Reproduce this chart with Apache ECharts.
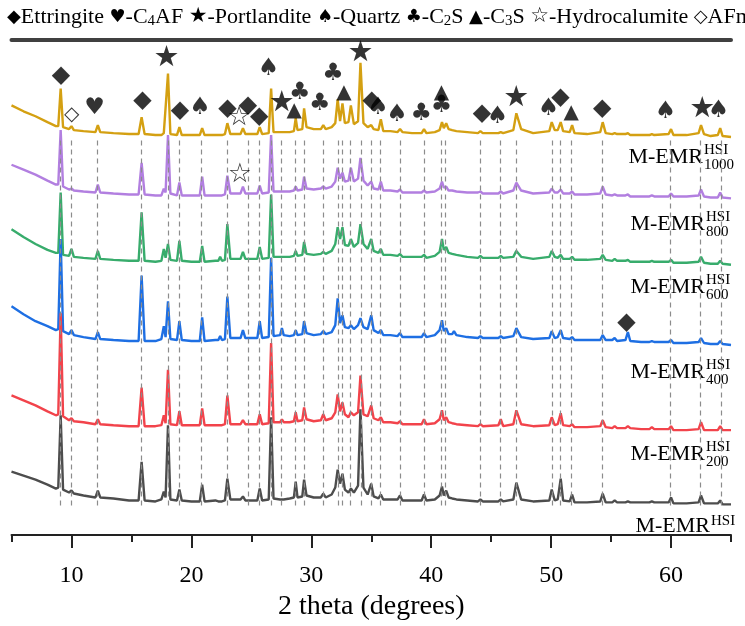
<!DOCTYPE html>
<html>
<head>
<meta charset="utf-8">
<script src="https://cdn.jsdelivr.net/npm/echarts@6/dist/echarts.min.js"></script>
<style>
  html, body { margin: 0; padding: 0; background: #fff; }
  #chart { width: 745px; height: 626px; }
</style>
</head>
<body>
<div id="chart"></div>
<script>
// 2 theta grid (degrees), shared by all six patterns
const twoTheta = [
  5, 6, 7, 8, 8.7, 8.9, 9.1, 9.3, 9.8, 10.0, 10.2, 11,
  12.0, 12.2, 12.4, 13.5, 14.8, 15.6, 15.85, 16.1, 17.0, 17.5, 17.7, 17.85,
  18.05, 18.25, 18.8, 19.0, 19.2, 20.0, 20.7, 20.9, 21.1, 22.0, 22.25, 22.4,
  22.55, 22.8, 23.0, 23.25, 24.1, 24.3, 24.5, 25.5, 25.7, 25.9, 26.45, 26.65,
  26.85, 27.4, 27.55, 27.7, 28.2, 28.55, 28.7, 28.85, 29.25, 29.4, 29.6, 30.2,
  30.8, 31.0, 31.2, 31.7, 32.0, 32.2, 32.4, 32.6, 32.8, 33.1, 33.3, 33.55,
  33.9, 34.1, 34.35, 34.7, 35.0, 35.2, 35.6, 35.8, 36.0, 36.6, 37.2, 37.4,
  37.6, 38.4, 39.2, 39.4, 39.6, 40.3, 40.7, 40.9, 41.05, 41.25, 41.45, 41.75,
  41.9, 42.1, 43.0, 43.9, 44.1, 44.3, 45.6, 45.8, 46.0, 46.85, 47.1, 47.5,
  48.5, 49.85, 50.05, 50.3, 50.55, 50.8, 51.0, 51.55, 51.75, 51.95, 53.0, 54.1,
  54.3, 54.55, 55.1, 55.3, 55.5, 56.2, 56.4, 56.6, 57.5, 58.2, 58.4, 58.6,
  59.8, 60.0, 60.2, 61.3, 62.3, 62.5, 62.75, 63.3, 63.9, 64.1, 64.3, 65
];

// intensities (a.u.) of each sample, before stacking
const emr1000 = [
  34, 28, 23, 17, 13, 13, 51, 12, 10, 13, 9, 8,
  7, 14, 7, 6, 5, 5, 22, 5, 4, 4, 6, 6,
  66, 5, 4, 12, 4, 4, 4, 11, 4, 4, 4, 5,
  4, 5, 16, 5, 5, 11, 5, 5, 12, 5, 6, 51,
  7, 7, 9, 7, 7, 8, 21, 9, 10, 31, 12, 10,
  10, 14, 10, 12, 16, 40, 18, 36, 16, 17, 34, 15,
  18, 77, 16, 12, 14, 10, 9, 20, 8, 8, 7, 10,
  7, 6, 6, 10, 6, 7, 9, 17, 11, 16, 10, 9,
  10, 8, 7, 6, 8, 6, 6, 7, 6, 9, 26, 10,
  6, 8, 17, 9, 9, 17, 8, 7, 14, 6, 5, 7,
  17, 6, 5, 6, 5, 5, 6, 4, 4, 4, 5, 4,
  5, 10, 4, 4, 6, 14, 5, 3, 4, 11, 3, 2
];
const emr800 = [
  34, 29, 24, 18, 14, 14, 69, 12, 9, 10, 8, 7,
  6, 14, 6, 5, 4, 4, 36, 4, 3, 3, 10, 6,
  64, 5, 3, 16, 3, 3, 3, 22, 3, 3, 3, 5,
  3, 4, 23, 5, 5, 12, 5, 5, 13, 5, 6, 64,
  7, 7, 9, 7, 7, 8, 12, 8, 9, 22, 10, 9,
  10, 12, 10, 12, 17, 31, 20, 26, 17, 18, 31, 17,
  20, 41, 18, 13, 17, 10, 9, 17, 8, 8, 7, 9,
  6, 6, 6, 8, 6, 7, 10, 17, 11, 12, 8, 8,
  9, 7, 6, 6, 7, 5, 5, 7, 5, 8, 16, 8,
  5, 6, 10, 6, 6, 9, 5, 5, 7, 4, 4, 5,
  12, 4, 3, 4, 3, 3, 4, 2, 2, 2, 3, 2,
  2, 5, 2, 2, 3, 9, 2, 1, 1, 6, 1, 0
];
const emr600 = [
  37, 29, 22, 16, 13, 13, 74, 11, 10, 17, 9, 8,
  7, 15, 7, 6, 5, 5, 54, 5, 4, 5, 17, 8,
  22, 6, 5, 25, 5, 4, 4, 20, 4, 5, 5, 9,
  5, 6, 42, 7, 7, 14, 7, 7, 19, 7, 8, 72,
  9, 9, 11, 9, 9, 10, 15, 10, 11, 24, 12, 11,
  12, 14, 12, 15, 22, 39, 27, 39, 21, 20, 27, 19,
  23, 42, 22, 17, 27, 15, 13, 17, 11, 11, 10, 12,
  9, 9, 9, 11, 8, 10, 14, 27, 16, 19, 13, 12,
  14, 11, 9, 8, 10, 8, 8, 10, 8, 9, 15, 9,
  7, 9, 15, 9, 8, 11, 7, 7, 9, 6, 6, 7,
  11, 6, 5, 7, 5, 5, 6, 4, 4, 4, 5, 4,
  4, 6, 3, 3, 4, 9, 3, 2, 2, 5, 2, 1
];
const emr400 = [
  39, 31, 24, 19, 15, 16, 107, 14, 11, 15, 10, 8,
  6, 13, 6, 5, 4, 4, 70, 4, 4, 6, 19, 8,
  44, 6, 5, 24, 5, 4, 4, 28, 4, 5, 5, 9,
  5, 6, 49, 7, 7, 15, 7, 7, 24, 7, 8, 88,
  9, 10, 17, 10, 9, 10, 15, 10, 11, 24, 12, 10,
  11, 14, 11, 13, 20, 47, 22, 30, 18, 17, 20, 16,
  20, 27, 18, 16, 30, 15, 12, 15, 10, 10, 9, 12,
  8, 8, 8, 12, 8, 10, 15, 25, 14, 17, 11, 11,
  14, 10, 8, 7, 9, 7, 7, 9, 7, 9, 17, 8,
  6, 7, 14, 7, 8, 15, 7, 6, 8, 5, 5, 5,
  10, 5, 5, 7, 4, 5, 13, 4, 3, 3, 4, 3,
  3, 5, 2, 2, 3, 7, 2, 1, 1, 4, 1, 0
];
const emr200 = [
  35, 30, 25, 19, 15, 16, 118, 14, 10, 12, 9, 8,
  6, 11, 6, 5, 4, 4, 43, 4, 4, 5, 15, 7,
  61, 6, 5, 19, 5, 5, 5, 22, 5, 5, 5, 7,
  5, 6, 35, 6, 6, 10, 6, 6, 16, 6, 7, 88,
  8, 8, 11, 8, 8, 9, 18, 9, 10, 23, 11, 9,
  10, 16, 10, 12, 18, 36, 19, 28, 16, 13, 18, 15,
  18, 55, 16, 14, 25, 12, 10, 13, 8, 8, 7, 9,
  6, 6, 6, 11, 6, 7, 11, 20, 10, 13, 8, 7,
  9, 6, 5, 4, 6, 4, 5, 11, 4, 6, 20, 6,
  4, 5, 13, 5, 6, 17, 5, 4, 6, 3, 3, 4,
  10, 3, 2, 4, 2, 2, 4, 2, 1, 1, 3, 1,
  1, 4, 0, 0, 1, 8, 0, 0, 0, 4, 0, 0
];
const emr0 = [
  34, 30, 26, 21, 17, 18, 91, 16, 13, 15, 12, 10,
  8, 15, 8, 7, 5, 5, 44, 5, 4, 6, 14, 8,
  81, 6, 5, 16, 5, 4, 4, 21, 4, 5, 4, 6,
  4, 5, 27, 6, 6, 9, 5, 5, 17, 5, 6, 89,
  7, 6, 8, 6, 7, 8, 24, 8, 9, 26, 10, 8,
  8, 12, 8, 11, 18, 36, 22, 32, 16, 13, 17, 13,
  20, 97, 18, 11, 22, 9, 7, 11, 6, 6, 6, 10,
  5, 5, 5, 11, 5, 6, 10, 19, 10, 15, 8, 7,
  8, 6, 5, 4, 6, 4, 4, 6, 4, 6, 23, 6,
  4, 5, 16, 5, 6, 27, 5, 4, 11, 3, 3, 4,
  12, 3, 3, 5, 3, 3, 4, 3, 3, 3, 4, 3,
  3, 8, 2, 2, 3, 10, 2, 2, 2, 5, 1, 1
];

const patterns = [emr1000, emr800, emr600, emr400, emr200, emr0];
const sampleSubs = ['1000', '800', '600', '400', '200', ''];
const stackOffsets = [400, 340, 272, 192, 106, 30];
const colors = ['#d4a012', '#b27fe0', '#38ac6c', '#1e6fe3', '#f2434b', '#4d4d4d'];

// reference peak positions (dashed lines)
const peakLines = [9.1, 10.02, 12.18, 15.8, 18.07, 18.98, 20.85, 22.96, 24.77, 25.65, 26.68,
  27.52, 28.68, 29.4, 30.98, 32.23, 32.6, 33.27, 34.13, 34.96, 35.77, 37.38, 39.4, 40.85,
  41.2, 44.1, 45.77, 47.1, 50.1, 50.77, 51.7, 54.27, 59.93, 62.46, 64.18];

// phase markers
const markerAngles = [9.13, 10.02, 11.93, 15.93, 17.93, 19.04, 20.71, 23.02, 23.98, 24.73, 25.65,
  26.43, 27.54, 28.57, 29.04, 30.71, 31.82, 32.73, 34.1, 35.04, 35.57, 37.15, 39.18, 40.85,
  40.85, 44.23, 45.52, 47.1, 49.79, 50.79, 51.68, 54.27, 59.54, 62.6, 63.96, 24.04, 56.29];
const markerLevels = [464, 424, 431, 439, 481, 429, 432, 431, 421, 434, 422,
  471, 436, 429, 447, 436, 466, 447, 486, 439, 432, 424, 426, 447,
  434, 426, 422, 441, 431, 442, 426, 431, 428, 430, 429, 364, 214];
const markerPhases = ['E', 'AFm', 'C4AF', 'E', 'P', 'E', 'Q', 'E', 'H', 'E', 'E',
  'Q', 'P', 'C3S', 'C2S', 'C2S', 'C2S', 'C3S', 'P', 'E', 'Q', 'Q', 'C2S', 'C3S',
  'C2S', 'E', 'Q', 'P', 'Q', 'E', 'C3S', 'E', 'Q', 'P', 'Q', 'H', 'E'];

const majorTicks = [10, 20, 30, 40, 50, 60];
const minorTicks = [5, 15, 25, 35, 45, 55, 65];

const glyphs = { E: '◆', C4AF: '♥', P: '★', Q: '♠', C2S: '♣', C3S: '▲', H: '☆', AFm: '◇' };
const glyphSize = { E: 24, C4AF: 23, P: 29, Q: 24, C2S: 24, C3S: 20, H: 27, AFm: 20 };

const serif = '"Liberation Serif", "Times New Roman", serif';
let myChart = echarts.init(document.getElementById('chart'));

let series = [];
// dashed guide lines
series.push({
  type: 'line',
  data: [],
  z: 1,
  markLine: {
    silent: true,
    symbol: ['none', 'none'],
    label: { show: false },
    lineStyle: { type: [5, 4], color: '#8c8c8c', width: 1.2 },
    data: peakLines.map(a => [{ coord: [a, 30] }, { coord: [a, 401] }])
  }
});
patterns.forEach((p, i) => {
  series.push({
    type: 'line',
    z: 2,
    symbol: 'none',
    data: twoTheta.map((t, k) => [t, stackOffsets[i] + p[k]]),
    lineStyle: { color: colors[i], width: 2.4 }
  });
});
series.push({
  type: 'scatter',
  z: 5,
  symbolSize: 1,
  itemStyle: { color: 'rgba(0,0,0,0)' },
  label: {
    show: true, position: 'inside', color: '#000',
    fontFamily: '"DejaVu Sans"'
  },
  data: markerAngles.map((a, k) => ({
    value: [a, markerLevels[k]],
    label: { formatter: glyphs[markerPhases[k]], fontSize: glyphSize[markerPhases[k]] }
  }))
});

// sample labels (M-EMR with HSI superscript and dosage subscript)
const labelY = [157.5, 224, 287, 372, 454, 526];
const labelX = [703, 705, 705, 705, 705, 710];
let graphic = [];
sampleSubs.forEach((s, i) => {
  graphic.push({ type: 'text', x: labelX[i], y: labelY[i],
    style: { text: 'M-EMR', align: 'right', verticalAlign: 'middle', font: '22px ' + serif, fill: '#000' } });
  graphic.push({ type: 'text', x: labelX[i] + 1, y: labelY[i] - (s ? 7 : 5),
    style: { text: 'HSI', align: 'left', verticalAlign: 'middle', font: '15px ' + serif, fill: '#000' } });
  if (s) {
    graphic.push({ type: 'text', x: labelX[i] + 1, y: labelY[i] + 8,
      style: { text: s, align: 'left', verticalAlign: 'middle', font: '15px ' + serif, fill: '#000' } });
  }
});

let option = {
  animation: false,
  backgroundColor: '#fff',
  title: {
    text: '{g|◆}Ettringite {g|♥}-C{s|4}AF {st|★}-Portlandite {g|♠}-Quartz {g|♣}-C{s|2}S {g|▲}-C{s|3}S {st|☆}-Hydrocalumite {g|◇}AFm',
    left: 2,
    top: 0,
    textStyle: {
      fontFamily: serif, fontSize: 22, fontWeight: 'normal', color: '#000',
      rich: {
        g: { fontFamily: '"DejaVu Sans"', fontSize: 18, color: '#000' },
        st: { fontFamily: '"DejaVu Sans"', fontSize: 21, color: '#000' },
        s: { fontFamily: serif, fontSize: 15, color: '#000', padding: [9, 0, 0, 0] }
      }
    }
  },
  grid: { left: 11.5, right: 14, top: 40, bottom: 87 },
  xAxis: [{
    type: 'value', min: 5, max: 65, position: 'bottom',
    name: '2 theta (degrees)', nameLocation: 'middle', nameGap: 52,
    nameTextStyle: { fontFamily: serif, fontSize: 28, color: '#000' },
    axisLine: { onZero: false, lineStyle: { color: '#222', width: 2 } },
    axisTick: { customValues: majorTicks, length: 13, lineStyle: { color: '#222', width: 2 } },
    axisLabel: { customValues: majorTicks, fontFamily: serif, fontSize: 24, color: '#000', margin: 29 },
    splitLine: { show: false }
  }, {
    type: 'value', min: 5, max: 65, position: 'bottom',
    axisLine: { show: false, onZero: false },
    axisTick: { customValues: minorTicks, length: 7, lineStyle: { color: '#222', width: 2 } },
    axisLabel: { show: false },
    splitLine: { show: false }
  }, {
    type: 'value', min: 5, max: 65, position: 'top',
    axisLine: { onZero: false, lineStyle: { color: '#404040', width: 4 } },
    axisTick: { show: false },
    axisLabel: { show: false },
    splitLine: { show: false }
  }],
  yAxis: { type: 'value', min: 0, max: 500, show: false },
  graphic: graphic,
  series: series
};
myChart.setOption(option);
</script>
</body>
</html>
